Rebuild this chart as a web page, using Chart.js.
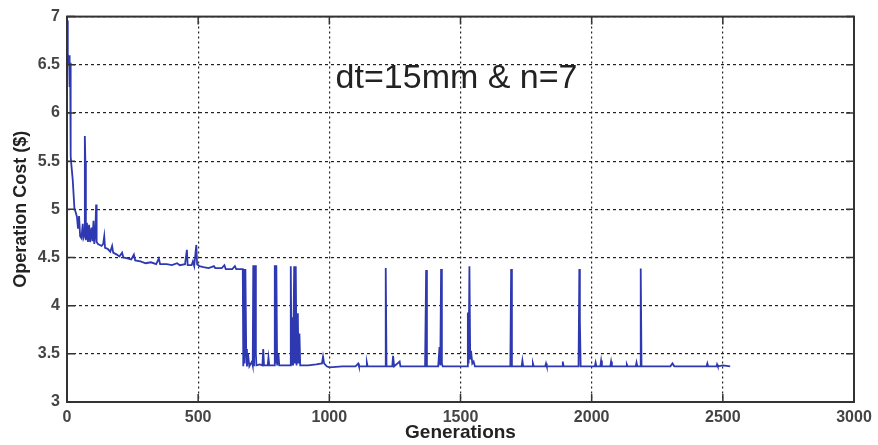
<!DOCTYPE html>
<html>
<head>
<meta charset="utf-8">
<script src="https://cdn.jsdelivr.net/npm/chart.js@4.4.0/dist/chart.umd.min.js"></script>
<style>
  html, body { margin: 0; padding: 0; background: #fff; }
  #wrap { width: 878px; height: 445px; }
</style>
</head>
<body>
<div id="wrap"><canvas id="chart" width="878" height="445"></canvas></div>
<script>
// best operation cost found at each generation
const generations = [
  0, 3, 6, 8, 10, 12, 14, 17, 22, 28, 33, 38,
  42, 46, 50, 55, 60, 63, 66, 68, 70, 72, 76, 80,
  84, 88, 93, 97, 101, 104, 108, 111, 113, 118, 125, 132,
  138, 142, 145, 155, 165, 172, 176, 190, 200, 210, 215, 230,
  245, 255, 260, 280, 300, 320, 340, 350, 355, 380, 400, 420,
  430, 450, 457, 460, 475, 480, 485, 490, 493, 496, 505, 520,
  540, 560, 565, 590, 600, 605, 630, 640, 645, 670, 672, 675,
  677, 680, 683, 686, 690, 695, 705, 708, 710, 713, 717, 720, 722,
  735, 745, 748, 751, 765, 768, 771, 785, 790, 792, 795, 798, 801,
  806, 809, 830, 851, 853, 856, 860, 862, 866, 868, 872, 875, 880,
  882, 886, 889, 920, 950, 972, 976, 980, 990, 1000, 1050, 1100,
  1110, 1113, 1140, 1143, 1146, 1213, 1215, 1218, 1240, 1243, 1247, 1268,
  1271, 1300, 1365, 1369, 1372, 1415, 1420, 1423, 1426, 1429, 1432, 1525,
  1528, 1531, 1534, 1537, 1540, 1545, 1550, 1555, 1600, 1690, 1693, 1696,
  1733, 1736, 1739, 1773, 1776, 1779, 1823, 1826, 1829, 1887, 1890, 1893,
  1950, 1953, 1955, 1958, 2012, 2015, 2018, 2033, 2036, 2039, 2071, 2074,
  2077, 2131, 2134, 2137, 2168, 2171, 2174, 2185, 2187, 2190, 2300, 2308,
  2315, 2380, 2438, 2441, 2444, 2476, 2478, 2481, 2500, 2528
];
const cost = [
  6.96, 6.62, 6.50, 6.60, 6.27, 6.52, 5.55, 5.45, 5.30, 5.02, 4.97, 4.92,
  4.80, 4.93, 4.72, 4.70, 4.85, 4.70, 4.72, 5.76, 5.50, 4.68, 4.86, 4.66,
  4.84, 4.66, 4.81, 4.67, 4.88, 4.64, 4.76, 5.05, 4.66, 4.64, 4.63, 4.62,
  4.64, 4.72, 4.60, 4.59, 4.56, 4.62, 4.55, 4.53, 4.51, 4.55, 4.50, 4.49,
  4.48, 4.53, 4.47, 4.46, 4.44, 4.45, 4.43, 4.49, 4.43, 4.43, 4.42, 4.44,
  4.42, 4.43, 4.58, 4.42, 4.42, 4.46, 4.41, 4.55, 4.63, 4.43, 4.41, 4.40,
  4.39, 4.41, 4.39, 4.39, 4.42, 4.38, 4.38, 4.41, 4.38, 4.38, 3.37, 4.38,
  3.40, 4.38, 3.55, 3.37, 3.50, 3.37, 3.42, 3.38, 4.42, 3.37, 4.42, 3.50, 3.38,
  3.39, 3.38, 3.55, 3.38, 3.38, 3.46, 3.38, 3.38, 3.38, 4.42, 3.40, 4.42, 3.38,
  3.50, 3.38, 3.38, 3.38, 4.41, 3.38, 3.88, 3.38, 4.41, 3.40, 4.41, 3.38, 3.92,
  3.40, 3.71, 3.38, 3.38, 3.39, 3.40, 3.47, 3.40, 3.37, 3.36, 3.37, 3.37,
  3.40, 3.37, 3.37, 3.41, 3.37, 3.37, 4.39, 3.37, 3.37, 3.48, 3.37, 3.42,
  3.37, 3.37, 3.37, 4.37, 3.37, 3.37, 3.57, 3.38, 4.38, 3.40, 3.37, 3.37,
  3.93, 3.40, 4.41, 3.45, 3.53, 3.40, 3.42, 3.37, 3.37, 3.37, 4.38, 3.37,
  3.37, 3.43, 3.37, 3.37, 3.40, 3.37, 3.37, 3.40, 3.37, 3.37, 3.42, 3.37,
  3.37, 4.38, 3.85, 3.37, 3.37, 3.41, 3.37, 3.37, 3.43, 3.37, 3.37, 3.42,
  3.37, 3.37, 3.39, 3.37, 3.37, 3.41, 3.37, 3.37, 4.385, 3.37, 3.37, 3.40,
  3.37, 3.37, 3.37, 3.40, 3.37, 3.37, 3.39, 3.37, 3.38, 3.37
];

const xTicks = [0, 500, 1000, 1500, 2000, 2500, 3000];
const yTicks = [3, 3.5, 4, 4.5, 5, 5.5, 6, 6.5, 7];
const caption = 'dt=15mm & n=7';

const FONT = '"Liberation Sans", Arial, Helvetica, sans-serif';

// box around the axes with inward ticks, plus the caption inside the plot
const framePlugin = {
  id: 'frame',
  afterDatasetsDraw(chart) {
    const { ctx, chartArea: a, scales: { x, y } } = chart;
    ctx.save();
    ctx.strokeStyle = '#333';
    ctx.lineWidth = 2;
    ctx.strokeRect(a.left, a.top, a.right - a.left, a.bottom - a.top);

    ctx.lineWidth = 1.5;
    ctx.beginPath();
    xTicks.forEach(v => {
      const px = x.getPixelForValue(v);
      ctx.moveTo(px, a.bottom); ctx.lineTo(px, a.bottom - 8);
      ctx.moveTo(px, a.top); ctx.lineTo(px, a.top + 8);
    });
    yTicks.forEach(v => {
      const py = y.getPixelForValue(v);
      ctx.moveTo(a.left, py); ctx.lineTo(a.left + 8, py);
      ctx.moveTo(a.right, py); ctx.lineTo(a.right - 8, py);
    });
    ctx.stroke();

    ctx.fillStyle = '#222';
    ctx.font = '34px ' + FONT;
    ctx.textAlign = 'center';
    ctx.textBaseline = 'alphabetic';
    ctx.fillText(caption, x.getPixelForValue(1485), y.getPixelForValue(6.26));
    ctx.restore();
  }
};

const points = generations.map((g, i) => ({ x: g, y: cost[i] }));

new Chart(document.getElementById('chart'), {
  type: 'line',
  data: {
    datasets: [{
      data: points,
      borderColor: 'rgb(46, 56, 176)',
      borderWidth: 1.8,
      pointRadius: 0,
      tension: 0,
      fill: false
    }]
  },
  options: {
    responsive: false,
    animation: false,
    layout: { padding: { top: 14, right: 24, left: 0, bottom: 0 } },
    plugins: {
      legend: { display: false },
      tooltip: { enabled: false }
    },
    scales: {
      x: {
        type: 'linear',
        min: 0,
        max: 3000,
        afterFit: s => { s.height = 43; },
        ticks: {
          stepSize: 500,
          padding: 6,
          color: '#444',
          font: { family: FONT, size: 16, weight: 'bold' },
          callback: v => String(v),
          maxRotation: 0
        },
        grid: { color: '#222', lineWidth: 1.2, drawTicks: false },
        border: { display: false, dash: [2, 3] },
        title: {
          display: true,
          text: 'Generations',
          color: '#222',
          font: { family: FONT, size: 19, weight: 'bold' },
          padding: { top: 0, bottom: 1 }
        }
      },
      y: {
        type: 'linear',
        min: 3,
        max: 7,
        afterFit: s => { s.width = 67; },
        ticks: {
          stepSize: 0.5,
          padding: 7,
          color: '#444',
          font: { family: FONT, size: 16, weight: 'bold' },
          callback: v => String(v)
        },
        grid: { color: '#222', lineWidth: 1.2, drawTicks: false },
        border: { display: false, dash: [3, 3] },
        title: {
          display: true,
          text: 'Operation Cost ($)',
          color: '#222',
          font: { family: FONT, size: 18, weight: 'bold' },
          padding: { top: 10, bottom: 0 }
        }
      }
    }
  },
  plugins: [framePlugin]
});
</script>
</body>
</html>
